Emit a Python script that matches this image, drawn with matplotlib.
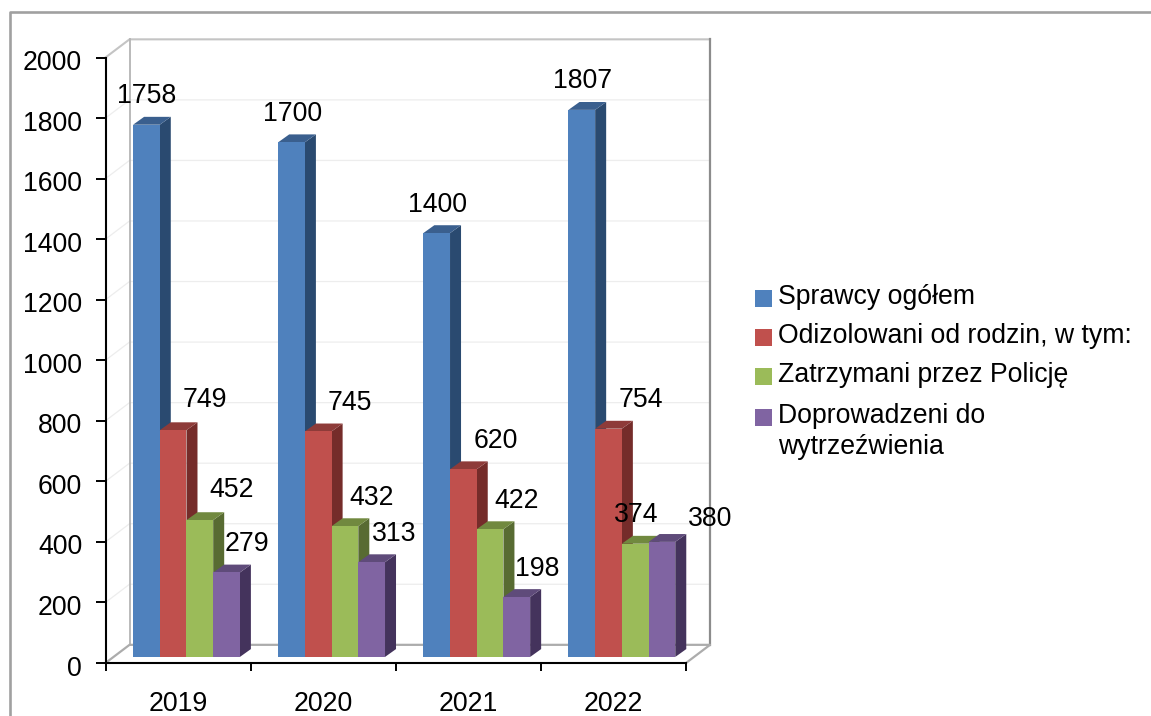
import matplotlib.pyplot as plt
from matplotlib.lines import Line2D
from matplotlib.patches import Rectangle
from matplotlib.transforms import ScaledTranslation

plt.rcParams["font.family"] = ["Liberation Sans", "DejaVu Sans"]

# --- Data ---
years = ["2019", "2020", "2021", "2022"]
sprawcy = [1758, 1700, 1400, 1807]
odizolowani = [749, 745, 620, 754]
zatrzymani = [452, 432, 422, 374]
doprowadzeni = [279, 313, 198, 380]
y_ticks = list(range(0, 2001, 200))

series_names = [
    "Sprawcy ogółem",
    "Odizolowani od rodzin, w tym:",
    "Zatrzymani przez Policję",
    "Doprowadzeni do\nwytrzeźwienia",
]
series_values = [sprawcy, odizolowani, zatrzymani, doprowadzeni]

# --- Styles ---
front_colors = ["#4F81BD", "#C0504D", "#9BBB59", "#8064A2"]
side_colors = ["#2A4A70", "#752C2A", "#586B32", "#44335C"]
top_colors = ["#3A5F8E", "#8E3B39", "#71893F", "#5F4B7A"]
font_size = 19.2

# label offsets from the top of each bar, in points (hand placed in the original)
label_dx = [
    [0.5, 0.5, 0.5, 0.5],
    [23, 23, 23, 23],
    [23, 19, 19, 0.5],
    [15, 16, 15, 35],
]
label_dy = [
    [20.5, 20.5, 20, 20.5],
    [21.5, 20.5, 20, 21],
    [21.5, 20.5, 20.5, 20.5],
    [20.5, 20.5, 20.5, 16.5],
]

# fake 3D geometry, x in categories, y in data units
bar_w = 0.184
group_start = 0.19
base = 20
depth_x = 11 / 145
depth_y = 26
wall_x = 24 / 145
wall_y = 60

fig = plt.figure(figsize=(11.51, 7.16), dpi=100)
ax = fig.add_axes([105.5 / 1151, 1 - 663 / 716, 580.5 / 1151, 605.5 / 716])
ax.set_xlim(0, 4)
ax.set_ylim(0, 2000)

# --- Chart border (runs off the right and bottom of the picture) ---
fig.add_artist(Line2D([9.5 / 1151, 9.5 / 1151, 1], [0, 1 - 11.5 / 716, 1 - 11.5 / 716],
                      color="#A0A0A0", lw=1.9))

# --- Walls and floor ---
for v in y_ticks[1:-1]:
    ax.plot([0, wall_x, 4 + wall_x], [v, v + wall_y, v + wall_y],
            color="#EDEDED", lw=0.9, clip_on=False, zorder=1)
ax.plot([0, wall_x, 4 + wall_x], [2000, 2000 + wall_y, 2000 + wall_y],
        color="#C4C4C4", lw=1.5, clip_on=False, zorder=1)
ax.plot([wall_x, wall_x], [wall_y, 2000 + wall_y], color="#B4B4B4", lw=1.3, clip_on=False, zorder=1)
ax.plot([4 + wall_x, 4 + wall_x], [wall_y, 2000 + wall_y], color="#8C8C8C", lw=1.6, clip_on=False, zorder=1)
ax.plot([0, wall_x, 4 + wall_x, 4], [0, wall_y, wall_y, 0],
        color="#ACACAC", lw=1.6, clip_on=False, zorder=1)

# --- Bars ---
z = 2
for i in range(len(years)):
    for j, values in enumerate(series_values):
        v = values[i]
        x0 = group_start + i + j * bar_w
        x1 = x0 + bar_w
        top = base + v
        ax.fill([x1, x1 + depth_x, x1 + depth_x, x1],
                [base, base + depth_y, top + depth_y, top],
                color=side_colors[j], lw=0, zorder=z, clip_on=False)
        ax.fill([x0, x1, x1 + depth_x, x0 + depth_x],
                [top, top, top + depth_y, top + depth_y],
                color=top_colors[j], lw=0, zorder=z, clip_on=False)
        ax.bar(x0, v, bar_w, bottom=base, align="edge", color=front_colors[j],
               lw=0, zorder=z + 0.5)
        ax.annotate(str(v), (x0 + bar_w / 2, top),
                    xytext=(label_dx[j][i], label_dy[j][i]), textcoords="offset points",
                    ha="center", va="center", fontsize=font_size, color="black",
                    zorder=100, annotation_clip=False)
        z += 1

# --- Axes ---
for side in ["top", "right"]:
    ax.spines[side].set_visible(False)
for side in ["left", "bottom"]:
    ax.spines[side].set_linewidth(1.5)
    ax.spines[side].set_zorder(50)
ax.patch.set_visible(False)

ax.set_yticks(y_ticks)
ax.tick_params(axis="y", length=7.5, width=1.4, pad=10, labelsize=font_size)
# y labels sit a little under their ticks in the original
label_shift = ScaledTranslation(1 / 100, -2.5 / 100, fig.dpi_scale_trans)
for label in ax.get_yticklabels():
    label.set_transform(label.get_transform() + label_shift)
ax.set_xticks(range(5))
ax.set_xticklabels([])
ax.tick_params(axis="x", which="major", length=5.5, width=1.4)
ax.set_xticks([i + 0.5 for i in range(len(years))], minor=True)
ax.set_xticklabels(years, minor=True, fontsize=font_size)
ax.tick_params(axis="x", which="minor", length=0, pad=20)

# --- Legend, drawn by hand so the swatch sits on the first line of a wrapped entry ---
legend_rows = [296, 335, 374, 415]
for name, color, row in zip(series_names, front_colors, legend_rows):
    fig.add_artist(Rectangle((755 / 1151, 1 - (row + 11) / 716), 17 / 1151, 17 / 716,
                             facecolor=color, edgecolor="none"))
    fig.text(778 / 1151, 1 - (row - 12) / 716, name, fontsize=font_size, va="top",
             linespacing=1.27)

fig.savefig("out.png", dpi=100)
